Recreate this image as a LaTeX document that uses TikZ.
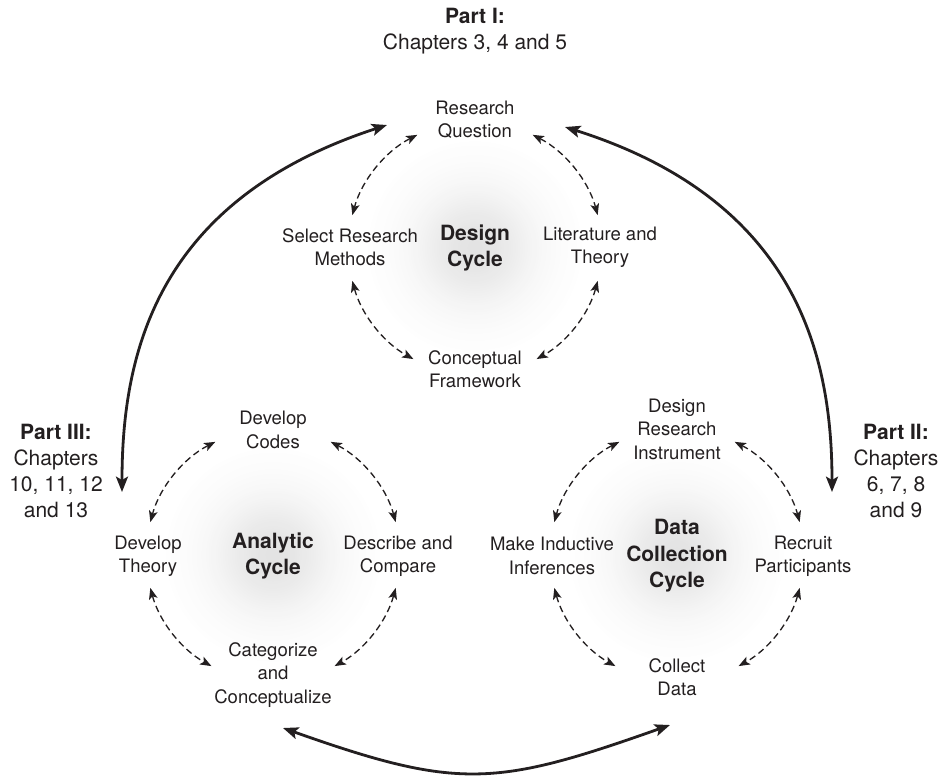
\documentclass[tikz,border=0pt]{standalone}
\usepackage{fontspec}
\setmainfont{TeX Gyre Heros}
\usetikzlibrary{arrows.meta}
\definecolor{ink}{RGB}{35,31,32}
\newcommand\cycarcs[1]{%
  \draw[dasharr] ([shift={(117:95.25pt)}]#1) arc[start angle=117,end angle=165,radius=95.25pt];
  \draw[dasharr] ([shift={(195:95.25pt)}]#1) arc[start angle=195,end angle=241,radius=95.25pt];
  \draw[dasharr] ([shift={(63:95.25pt)}]#1) arc[start angle=63,end angle=15,radius=95.25pt];
  \draw[dasharr] ([shift={(-15:95.25pt)}]#1) arc[start angle=-15,end angle=-61,radius=95.25pt];
}
\newcommand\glowdisc[1]{%
  \foreach \i in {0,...,44}{%
    \pgfmathsetmacro\rr{80*(1-\i/45)}%
    \pgfmathsetmacro\gg{11*exp(-3.2*(\rr/80)^2)}%
    \fill[black!\gg] (#1) circle (\rr pt);
  }%
}
\begin{document}
\begin{tikzpicture}[x=0.75pt,y=0.75pt,
  lbl/.style={align=center,inner sep=0pt,text=ink,font=\fontsize{13.9pt}{17.6pt}\selectfont},
  cyc/.style={align=center,inner sep=0pt,text=ink,font=\fontsize{15.75pt}{19.9pt}\selectfont\bfseries},
  part/.style={align=center,inner sep=0pt,text=ink,font=\fontsize{15.75pt}{19.5pt}\selectfont},
  dasharr/.style={draw=ink,line width=1pt,dash pattern=on 5pt off 3pt,>={Stealth[length=8.5pt,width=6.5pt,inset=2pt]},<->},
  bigarr/.style={draw=ink,line width=2.1pt,>={Stealth[length=11.5pt,width=9pt,inset=2.5pt]},<->}]
\useasboundingbox (0,0) rectangle (941,-776);
% cycle centres and glows
\coordinate (C1) at (475,-248);
\coordinate (C2) at (273,-555);
\coordinate (C3) at (677,-555);
\glowdisc{C1}
\glowdisc{C2}
\glowdisc{C3}
% design cycle
\node[lbl] (rq) at (475,-120) {Research\\Question};
\node[lbl] (srm) at (350,-247) {Select Research\\Methods};
\node[cyc] (dcyc) at (C1) {Design\\Cycle};
\node[lbl] (lt) at (600,-247) {Literature and\\Theory};
\node[lbl] (cf) at (475,-369) {Conceptual\\Framework};
% analytic cycle
\node[lbl] (dcodes) at (273,-430) {Develop\\Codes};
\node[lbl] (dth) at (148,-556) {Develop\\Theory};
\node[cyc] (acyc) at (273,-556) {Analytic\\Cycle};
\node[lbl] (dcomp) at (398,-556) {Describe and\\Compare};
\node[lbl] (cc) at (273,-675) {Categorize\\and\\Conceptualize};
% data collection cycle
\node[lbl] (dri) at (677,-429) {Design\\Research\\Instrument};
\node[lbl] (mii) at (552,-556) {Make Inductive\\Inferences};
\node[cyc] (dcc) at (677,-556) {Data\\Collection\\Cycle};
\node[lbl] (rp) at (803,-556) {Recruit\\Participants};
\node[lbl] (cd) at (677,-677) {Collect\\Data};
% parts
\node[part] (p1) at (475,-31) {\textbf{Part I:}\\Chapters 3, 4 and 5};
\node[part] (p3) at (56,-471) {\textbf{Part III:}\\Chapters\\10, 11, 12\\and 13};
\node[part] (p2) at (896,-471) {\textbf{Part II:}\\Chapters\\6, 7, 8\\and 9};
% dashed cycle arrows
\cycarcs{C1}
\cycarcs{C2}
\cycarcs{C3}
% big arcs
\coordinate (a1) at (387,-125);
\coordinate (a2) at (122,-492);
\coordinate (b1) at (565,-127);
\coordinate (b2) at (832,-492);
\coordinate (c1) at (283,-728);
\coordinate (c2) at (670,-725);
\draw[bigarr] (a1) .. controls (156,-200) and (122,-354) .. (a2);
\draw[bigarr] (b1) .. controls (796,-200) and (832,-354) .. (b2);
\draw[bigarr] (c1) .. controls (458,-790) and (495,-787) .. (c2);
\end{tikzpicture}
\end{document}
